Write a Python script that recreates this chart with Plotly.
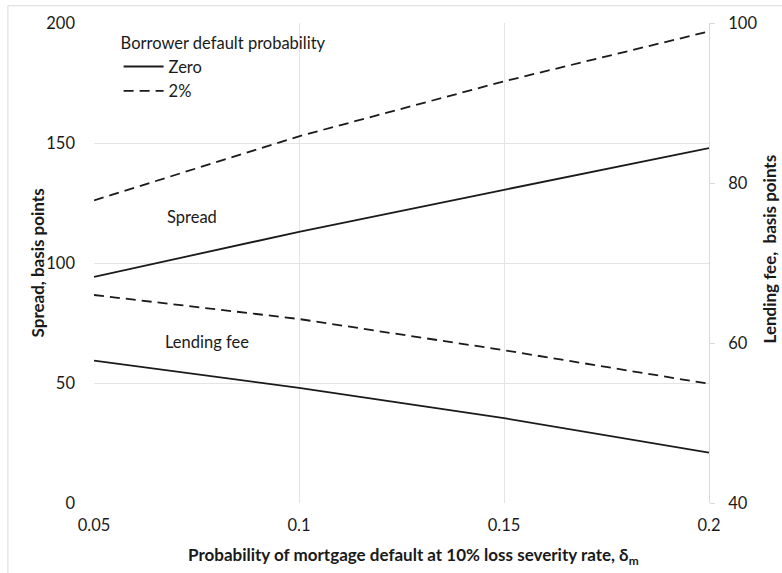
import plotly.graph_objects as go

# Probability of mortgage default (x axis)
delta_m = [0.05, 0.10, 0.15, 0.20]

# Spread, basis points (left axis)
spread_zero = [94.2, 113.0, 130.5, 147.9]
spread_2pct = [126.1, 152.8, 175.7, 196.5]

# Lending fee, basis points (right axis)
fee_zero = [57.8, 54.4, 50.6, 46.3]
fee_2pct = [66.0, 63.0, 59.1, 54.9]

x_ticks = [0.05, 0.1, 0.15, 0.2]
x_ticklabels = ["0.05", "0.1", "0.15", "0.2"]
left_ticks = [0, 50, 100, 150, 200]
right_ticks = [40, 60, 80, 100]

FONT = "Lato, 'Open Sans', sans-serif"
INK = "#1a1a1a"
GRID = "#e4e4e4"
DASH = "10px,6px"
FS = 16.5
TITLE_FS = 17

fig = go.Figure()

fig.add_trace(go.Scatter(x=delta_m, y=spread_zero, mode="lines", name="Zero",
                         line=dict(color=INK, width=1.8), legendgroup="zero"))
fig.add_trace(go.Scatter(x=delta_m, y=spread_2pct, mode="lines", name="2%",
                         line=dict(color=INK, width=1.8, dash=DASH), legendgroup="two"))
fig.add_trace(go.Scatter(x=delta_m, y=fee_zero, mode="lines", name="Zero", yaxis="y2",
                         line=dict(color=INK, width=1.8), legendgroup="zero", showlegend=False))
fig.add_trace(go.Scatter(x=delta_m, y=fee_2pct, mode="lines", name="2%", yaxis="y2",
                         line=dict(color=INK, width=1.8, dash=DASH), legendgroup="two", showlegend=False))

fig.update_layout(
    width=782, height=573,
    margin=dict(l=94, r=73, t=23, b=70, autoexpand=False),
    paper_bgcolor="white", plot_bgcolor="white",
    font=dict(family=FONT, size=FS, color=INK),
    showlegend=True,
    legend=dict(
        title=dict(text="Borrower default probability", side="top", font=dict(size=FS)),
        x=0.04, y=0.99, xanchor="left", yanchor="top",
        bgcolor="rgba(0,0,0,0)", font=dict(size=FS),
        tracegroupgap=0, itemwidth=40,
    ),
    xaxis=dict(
        range=[0.05, 0.2], tickvals=x_ticks, ticktext=x_ticklabels,
        showgrid=True, gridcolor=GRID, gridwidth=1, automargin=False,
        zeroline=False, showline=False, ticks="", ticklabelstandoff=10,
    ),
    yaxis=dict(
        range=[0, 200], tickvals=left_ticks, automargin=False,
        showgrid=True, gridcolor=GRID, gridwidth=1,
        zeroline=False, showline=False, ticks="", ticklabelstandoff=18,
    ),
    yaxis2=dict(
        range=[40, 100], tickvals=right_ticks, overlaying="y", side="right",
        showgrid=False, zeroline=False, automargin=False,
        showline=True, linecolor="#d9d9d9", linewidth=1,
        ticks="outside", ticklen=5, tickcolor="#d9d9d9", ticklabelstandoff=10,
    ),
)

# axis titles
fig.add_annotation(x=0.519, y=-0.11, xref="paper", yref="paper",
                   xanchor="center", yanchor="middle",
                   text="<b>Probability of mortgage default at 10% loss severity rate, δ<sub>m</sub></b>",
                   showarrow=False, font=dict(size=TITLE_FS))
fig.add_annotation(x=-0.092, y=0.5, xref="paper", yref="paper", textangle=-90,
                   xanchor="center", yanchor="middle",
                   text="<b>Spread, basis points</b>", showarrow=False, font=dict(size=TITLE_FS))
fig.add_annotation(x=1.099, y=0.53, xref="paper", yref="paper", textangle=-90,
                   xanchor="center", yanchor="middle",
                   text="<b>Lending fee,  basis points</b>", showarrow=False, font=dict(size=TITLE_FS))

# curve labels
fig.add_annotation(x=0.0673, y=119.3, xref="x", yref="y", text="Spread",
                   showarrow=False, xanchor="left", font=dict(size=FS))
fig.add_annotation(x=0.0668, y=67.2, xref="x", yref="y", text="Lending fee",
                   showarrow=False, xanchor="left", font=dict(size=FS))

# light frame around the chart area
fig.add_shape(type="line", xref="paper", yref="paper", x0=-0.14, x1=1.2, y0=1.036, y1=1.036,
              line=dict(color="#d9d9d9", width=1))
fig.add_shape(type="line", xref="paper", yref="paper", x0=-0.14, x1=-0.14, y0=1.036, y1=-0.2,
              line=dict(color="#d9d9d9", width=1))

fig.write_html("out.html")
